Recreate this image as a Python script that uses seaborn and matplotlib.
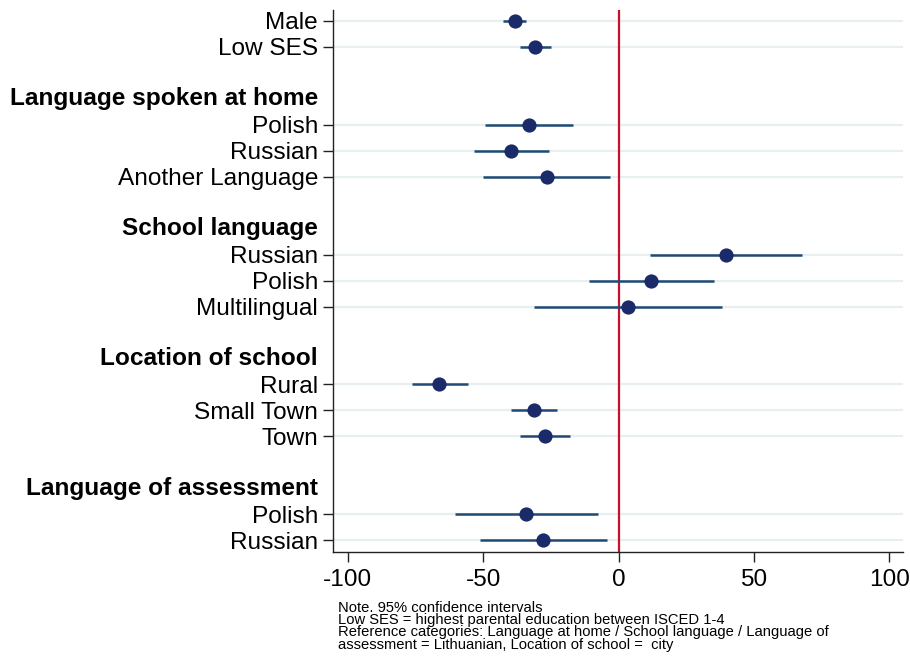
import numpy as np
import pandas as pd
import matplotlib.pyplot as plt
import seaborn as sns

# coefficient estimates and 95% CIs
groups = ["", "Language spoken at home", "School language",
          "Location of school", "Language of assessment"]
labels = [["Male", "Low SES"],
          ["Polish", "Russian", "Another Language"],
          ["Russian", "Polish", "Multilingual"],
          ["Rural", "Small Town", "Town"],
          ["Polish", "Russian"]]
coef = [[-38.3, -30.7],
        [-33.2, -39.6, -26.5],
        [39.6, 12.1, 3.5],
        [-66.1, -31.2, -27.1],
        [-34.2, -27.7]]
ci_low = [[-42.6, -36.5],
          [-49.3, -53.4, -50.0],
          [11.6, -11.0, -31.3],
          [-76.3, -39.8, -36.5],
          [-60.2, -51.3]]
ci_high = [[-34.1, -25.1],
           [-16.7, -25.5, -3.0],
           [67.8, 35.4, 38.3],
           [-55.6, -22.6, -17.9],
           [-7.6, -4.1]]

note = ["Note. 95% confidence intervals",
        "Low SES = highest parental education between ISCED 1-4",
        "Reference categories: Language at home / School language / Language of",
        "assessment = Lithuanian, Location of school =  city"]

# build row layout: one blank row + header row before each named group
rows = []
headers = []
pos = 0
for g, (name, labs) in enumerate(zip(groups, labels)):
    if name:
        pos += 1
        headers.append((pos - 0.1, name))
        pos += 1
    for i, lab in enumerate(labs):
        rows.append(dict(pos=pos, label=lab, coef=coef[g][i],
                         lo=ci_low[g][i], hi=ci_high[g][i]))
        pos += 1
df = pd.DataFrame(rows)

sns.set_theme(style="white")
plt.rcParams['font.family'] = ['Liberation Sans', 'DejaVu Sans']
plt.rcParams['axes.unicode_minus'] = False
plt.rcParams['text.color'] = 'black'
plt.rcParams['xtick.labelcolor'] = 'black'
plt.rcParams['ytick.labelcolor'] = 'black'

fig = plt.figure(figsize=(9.1, 6.63), dpi=100)
ax = fig.add_axes([333/910, 1-552/663, (903-333)/910, (552-10)/663])

xmin, xmax = -105.4, 105.0
ax.hlines(df['pos'], xmin, xmax, color='#e8eff1', lw=1.6, zorder=0)
ax.axvline(0, color='#c8102e', lw=1.6, zorder=1)
ax.hlines(df['pos'], df['lo'], df['hi'], color='#1f4a75', lw=1.8, zorder=2)
sns.scatterplot(data=df, x='coef', y='pos', ax=ax, s=105, color='#1b2a68',
                edgecolor='#1b2a68', linewidth=0, zorder=3, legend=False)

ax.set_xlim(xmin, xmax)
ax.set_ylim(20.45, -0.42)
ax.set_xticks([-100, -50, 0, 50, 100])
ax.set_xticklabels(['-100', '-50', '0', '50', '100'])

# item rows as major ticks, group headers as minor ticks without marks
ax.set_yticks(df['pos'])
ax.set_yticklabels(df['label'])
ax.set_yticks([p for p, _ in headers], minor=True)
ax.set_yticklabels([n for _, n in headers], minor=True, fontweight='bold')

ax.tick_params(axis='y', which='major', length=7.2, width=1.0, pad=3.6,
               labelsize=17.6, left=True, color='#222222')
ax.tick_params(axis='y', which='minor', length=0, pad=10.8,
               labelsize=17.6, left=True)
ax.tick_params(axis='x', length=7.5, width=1.0, pad=4.5, labelsize=17.6,
               bottom=True, color='#222222')
ax.set_xlabel('')
ax.set_ylabel('')
sns.despine(ax=ax)
for sp in ['left', 'bottom']:
    ax.spines[sp].set_color('#222222')
    ax.spines[sp].set_linewidth(1.0)

fig.text(338/910, 1 - 601/663, "\n".join(note), fontsize=10.6,
         ha='left', va='top', linespacing=0.84, color='black')

fig.savefig('out.png', dpi=100)
